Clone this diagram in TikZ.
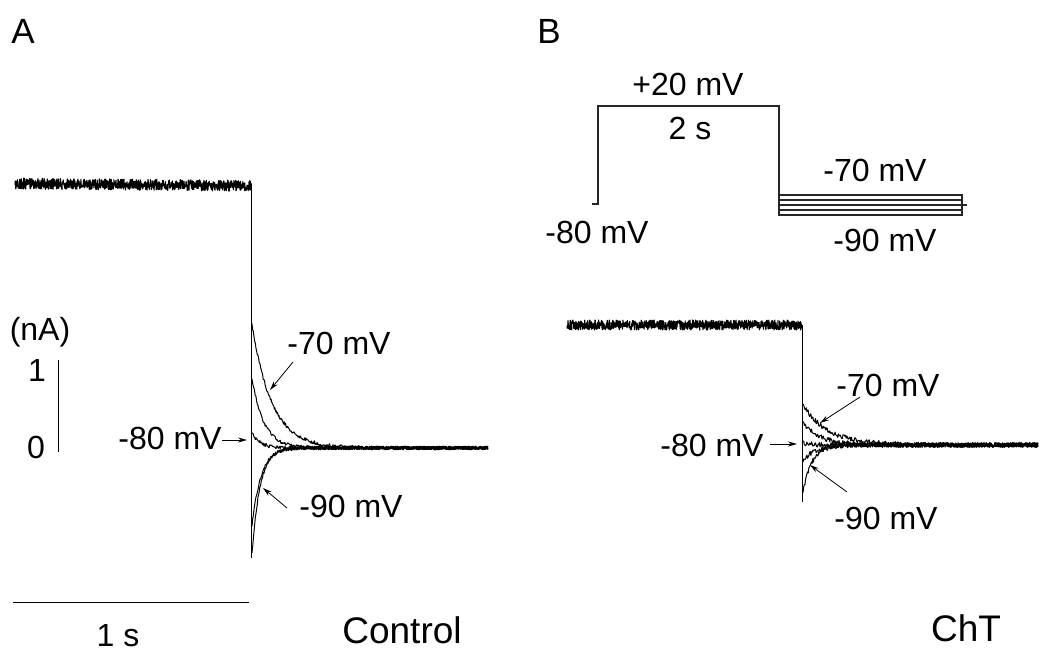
\documentclass[tikz,border=0pt]{standalone}
\usepackage{fontspec}
\setmainfont{Liberation Sans}
\usetikzlibrary{arrows.meta}
\begin{document}
\begin{tikzpicture}[x=1pt,y=-1pt,
  lbl/.style={font=\fontsize{32}{36}\selectfont, inner sep=0pt},
  biglbl/.style={font=\fontsize{37}{42}\selectfont, inner sep=0pt},
  panellbl/.style={font=\fontsize{35}{40}\selectfont, inner sep=0pt},
  arr/.style={-{Stealth[length=9pt,width=5pt]}, line width=0.8pt},
  trace/.style={line width=1pt, line join=round},
  noisy/.style={line width=1.1pt, line join=round},
  thinline/.style={line width=1pt},
  protocol/.style={line width=1.1pt, draw=black!85}]
\pgfmathsetseed{7}
\useasboundingbox (0,0) rectangle (1050,659);

% ---------- panel labels ----------
\node[panellbl] (pA) at (23,31.5) {A};
\node[panellbl] (pB) at (549,31) {B};

% ---------- Panel A traces ----------
\draw[noisy] plot[domain=15:251, samples=900] (\x,{183.5+0.01*(\x-15)+5.5*rand});
\draw[thinline] (251,184) -- (251,558);
\draw[trace] plot[domain=0:236, samples=360] ({252+\x},{448-123*exp(-\x/20)+1.8*rand});
\draw[trace] plot[domain=0:236, samples=360] ({252+\x},{448-70*exp(-\x/12)+1.8*rand});
\draw[trace] plot[domain=0:236, samples=360] ({252+\x},{448-15*exp(-\x/8)+1.8*rand});
\draw[trace] plot[domain=0:236, samples=360] ({252+\x},{448+78*exp(-\x/9)+1.8*rand});
\draw[trace] plot[domain=0:236, samples=360] ({252+\x},{448+106*exp(-\x/8)+1.8*rand});

% scale bars A
\coordinate (sb1) at (58,360);
\coordinate (sb0) at (58,452);
\draw[thinline] (sb1) -- (sb0);
\node[lbl] (nA) at (40,332) {(nA)};
\node[lbl] (one) at (37,370) {1};
\node[lbl] (zero) at (36,447) {0};

\coordinate (tb0) at (13,602);
\coordinate (tb1) at (249,602);
\draw[thinline] (tb0) -- (tb1);
\node[lbl] (ones) at (118,636) {1 s};
\node[biglbl] (ctrl) at (402,630) {Control};

% labels A with arrows
\node[lbl] (a80) at (170,438) {-80 mV};
\coordinate (a80t) at (222,440);
\coordinate (a80h) at (247,440);
\draw[arr] (a80t) -- (a80h);

\node[lbl] (a70) at (339,343) {-70 mV};
\coordinate (a70t) at (293,362);
\coordinate (a70h) at (270,390);
\draw[arr] (a70t) -- (a70h);

\node[lbl] (a90) at (351,506) {-90 mV};
\coordinate (a90t) at (287,508);
\coordinate (a90h) at (263,488);
\draw[arr] (a90t) -- (a90h);

% ---------- Panel B protocol ----------
\coordinate (q0) at (592,204);
\coordinate (q1) at (598,204);
\coordinate (q2) at (598,106);
\coordinate (q3) at (779,106);
\coordinate (q4) at (779,215);
\coordinate (q5) at (962,215);
\coordinate (q6) at (962,195);
\coordinate (q7) at (779,195);
\draw[protocol] (q0) -- (q1) -- (q2) -- (q3) -- (q4) -- (q5) -- (q6) -- (q7);
\draw[protocol] (779,200) -- (962,200);
\draw[protocol] (779,205) -- (967,205);
\draw[protocol] (779,210) -- (962,210);

\node[lbl] (p20) at (688,84) {+20 mV};
\node[lbl] (p2s) at (690,128) {2 s};
\node[lbl] (p70) at (875,170) {-70 mV};
\node[lbl] (p80) at (597,232) {-80 mV};
\node[lbl] (p90) at (885,240) {-90 mV};

% ---------- Panel B traces ----------
\draw[noisy] plot[domain=567:802, samples=900] (\x,{325+5*rand});
\draw[thinline] (802,325) -- (802,502);
\draw[trace] plot[domain=0:235, samples=360] ({803+\x},{445-40*exp(-\x/25)+2.4*rand});
\draw[trace] plot[domain=0:235, samples=360] ({803+\x},{445-22*exp(-\x/18)+2.4*rand});
\draw[trace] plot[domain=0:235, samples=360] ({803+\x},{445-2*exp(-\x/10)+2.4*rand});
\draw[trace] plot[domain=0:235, samples=360] ({803+\x},{445+16*exp(-\x/12)+2.4*rand});
\draw[trace] plot[domain=0:235, samples=360] ({803+\x},{445+47*exp(-\x/9)+2.4*rand});

\node[biglbl] (cht) at (966,628.5) {ChT};

\node[lbl] (b70) at (888,385) {-70 mV};
\coordinate (b70t) at (860,397);
\coordinate (b70h) at (820,423);
\draw[arr] (b70t) -- (b70h);

\node[lbl] (b80) at (712,445) {-80 mV};
\coordinate (b80t) at (770,444);
\coordinate (b80h) at (797,444);
\draw[arr] (b80t) -- (b80h);

\node[lbl] (b90) at (886,518) {-90 mV};
\coordinate (b90t) at (847,492);
\coordinate (b90h) at (810,465);
\draw[arr] (b90t) -- (b90h);
\end{tikzpicture}
\end{document}
